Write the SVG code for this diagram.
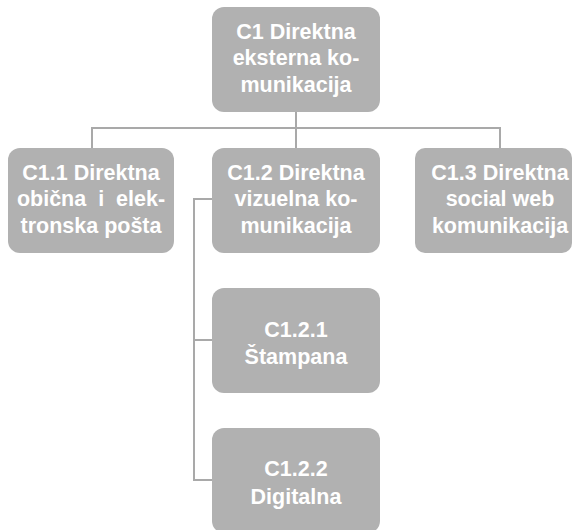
<svg xmlns="http://www.w3.org/2000/svg" width="573" height="530" viewBox="0 0 573 530">
<style>
.box{fill:#b1b1b1}
.t{font-family:"Liberation Sans",Arial,sans-serif;font-weight:bold;font-size:21.5px;fill:#ffffff;text-anchor:middle;white-space:pre}
.c{fill:none;stroke:#a9a9a9;stroke-width:2}
</style>
<rect width="573" height="530" fill="#ffffff"/>
<g id="connectors">
<path class="c" d="M296 112V128M92 148V128H500V148M296 128V148"/>
<path class="c" d="M212 199H194V480H212M194 340H212"/>
</g>
<g id="c1">
<rect class="box" x="212" y="7" width="168" height="105" rx="12"/>
<text class="t" x="296" y="39">C1 Direktna</text>
<text class="t" x="296" y="65">eksterna ko-</text>
<text class="t" x="296" y="92">munikacija</text>
</g>
<g id="c1-1">
<rect class="box" x="8" y="148" width="166" height="105" rx="12"/>
<text class="t" x="91" y="180">C1.1 Direktna</text>
<text class="t" x="91" y="206">obična  i  elek-</text>
<text class="t" x="91" y="233">tronska pošta</text>
</g>
<g id="c1-2">
<rect class="box" x="212" y="148" width="168" height="105" rx="12"/>
<text class="t" x="296" y="180">C1.2 Direktna</text>
<text class="t" x="296" y="206">vizuelna ko-</text>
<text class="t" x="296" y="233">munikacija</text>
</g>
<g id="c1-3">
<rect class="box" x="415" y="148" width="157" height="105" rx="10"/>
<text class="t" x="500" y="180">C1.3 Direktna</text>
<text class="t" x="500" y="206">social web</text>
<text class="t" x="500" y="233">komunikacija</text>
</g>
<g id="c1-2-1">
<rect class="box" x="212" y="288" width="168" height="105" rx="12"/>
<text class="t" x="296" y="337">C1.2.1</text>
<text class="t" x="296" y="364">Štampana</text>
</g>
<g id="c1-2-2">
<rect class="box" x="212" y="428" width="168" height="105" rx="12"/>
<text class="t" x="296" y="476">C1.2.2</text>
<text class="t" x="296" y="504">Digitalna</text>
</g>
</svg>
